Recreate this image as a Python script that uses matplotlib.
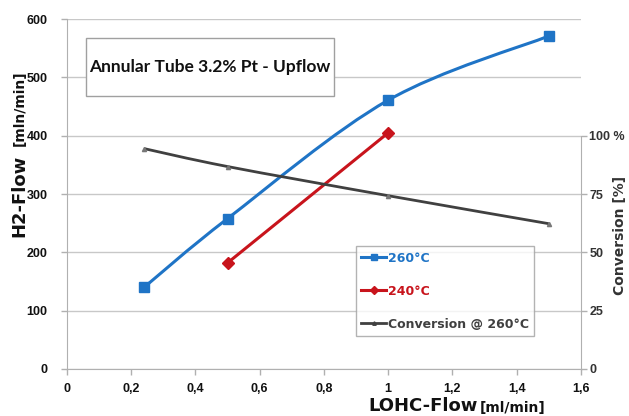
import numpy as np
import matplotlib
matplotlib.use("Agg")
import matplotlib.pyplot as plt
from matplotlib.path import Path
from matplotlib.patches import PathPatch, Rectangle
from matplotlib.lines import Line2D

# data
lohc = [0.24, 0.5, 1.0, 1.5]
h2_260 = [140, 258, 461, 571]
lohc_240 = [0.5, 1.0]
h2_240 = [182, 405]
conv_260 = [94.5, 86.8, 74.3, 62.3]  # percent

x_ticks = [0, 0.2, 0.4, 0.6, 0.8, 1.0, 1.2, 1.4, 1.6]
x_labels = ["0", "0,2", "0,4", "0,6", "0,8", "1", "1,2", "1,4", "1,6"]
y_ticks = [0, 100, 200, 300, 400, 500, 600]
conv_ticks = [0, 25, 50, 75, 100]
conv_labels = ["0", "25", "50", "75", "100 %"]

BLUE = "#1f74c6"
RED = "#c8141c"
GREY = "#404040"

plt.rcParams["font.family"] = ["Liberation Sans", "DejaVu Sans"]


def smooth_path(xs, ys):
    # excel style smoothed line (catmull-rom as cubic bezier)
    pts = np.column_stack([xs, ys]).astype(float)
    p = np.vstack([pts[0], pts, pts[-1]])
    verts = [tuple(pts[0])]
    codes = [Path.MOVETO]
    for i in range(1, len(p) - 2):
        c1 = p[i] + (p[i + 1] - p[i - 1]) / 6
        c2 = p[i + 1] - (p[i + 2] - p[i]) / 6
        verts += [tuple(c1), tuple(c2), tuple(p[i + 1])]
        codes += [Path.CURVE4] * 3
    return Path(verts, codes)


fig = plt.figure(figsize=(6.29, 4.16), dpi=100)
ax = fig.add_axes([0.1065, 0.113, 0.817, 0.841])

ax.set_xlim(0, 1.6)
ax.set_ylim(0, 600)
ax.set_xticks(x_ticks)
ax.set_xticklabels(x_labels)
ax.set_yticks(y_ticks)
ax.yaxis.grid(True, color="#c8c8c8", linewidth=1)
ax.set_axisbelow(True)
for s in ["top", "right"]:
    ax.spines[s].set_visible(False)
for s in ["left", "bottom"]:
    ax.spines[s].set_color("#b0b0b0")
ax.tick_params(axis="both", colors="#b0b0b0", length=4, width=1,
               labelcolor="#111111", labelsize=9)
ax.tick_params(axis="x", pad=6)
ax.tick_params(axis="y", pad=10)
for lbl in ax.get_xticklabels() + ax.get_yticklabels():
    lbl.set_fontweight("bold")

# conversion on a right axis, 0..100 % mapped onto 0..400
ax2 = ax.twinx()
ax2.set_ylim(0, 150)
ax2.set_yticks(conv_ticks)
ax2.set_yticklabels(conv_labels)
for s in ["top", "left", "bottom"]:
    ax2.spines[s].set_visible(False)
ax2.spines["right"].set_color("#b0b0b0")
ax2.spines["right"].set_bounds(0, 100)
ax2.tick_params(axis="y", colors="#b0b0b0", length=4, width=1,
                labelcolor="#333333", labelsize=9, pad=2)
for lbl in ax2.get_yticklabels():
    lbl.set_fontweight("bold")

# series
ax.add_patch(PathPatch(smooth_path(lohc, h2_260), facecolor="none",
                       edgecolor=BLUE, linewidth=2.2, zorder=3))
ax.plot(lohc, h2_260, linestyle="none", marker="s", markersize=7,
        color=BLUE, zorder=4)
ax.plot(lohc_240, h2_240, color=RED, linewidth=2.2, marker="D",
        markersize=6, zorder=4)
ax2.add_patch(PathPatch(smooth_path(lohc, conv_260), facecolor="none",
                        edgecolor=GREY, linewidth=2, zorder=3))
ax2.plot(lohc, conv_260, linestyle="none", marker="^", markersize=3,
         color="#777777", zorder=4)

# title box
ax.add_patch(Rectangle((0.037, 0.78), 0.482, 0.166, transform=ax.transAxes,
                       facecolor="white", edgecolor="#a0a0a0", linewidth=1,
                       zorder=5))
ax.text(0.278, 0.863, "Annular Tube 3.2% Pt - Upflow", transform=ax.transAxes,
        ha="center", va="center", fontsize=12.5, fontweight="bold",
        family="Lato", color="#111111", zorder=6)

# legend
handles = [
    Line2D([], [], color=BLUE, linewidth=2.2, marker="s", markersize=5),
    Line2D([], [], color=RED, linewidth=2.2, marker="D", markersize=4),
    Line2D([], [], color=GREY, linewidth=2, marker="^", markersize=2.5),
]
leg = ax.legend(handles, ["260°C", "240°C", "Conversion @ 260°C"],
                loc="upper left", bbox_to_anchor=(0.562, 0.351),
                prop={"family": "DejaVu Sans", "weight": "bold", "size": 9},
                frameon=True, fancybox=False, handlelength=2.0,
                handletextpad=0.1, labelspacing=1.6, borderpad=0.45,
                borderaxespad=0)
leg.get_frame().set_edgecolor("#a0a0a0")
leg.get_frame().set_linewidth(1)
for t, c in zip(leg.get_texts(), [BLUE, RED, GREY]):
    t.set_color(c)

# axis labels with two sizes
fig.text(0.031, 0.43, "H2-Flow", rotation=90, ha="center", va="bottom",
         fontsize=13, fontweight="bold", family="DejaVu Sans", color="#111111")
fig.text(0.031, 0.65, "[mln/min]", rotation=90, ha="center", va="bottom",
         fontsize=10, fontweight="bold", family="DejaVu Sans", color="#111111")
fig.text(0.760, 0.025, "LOHC-Flow", ha="right", va="center",
         fontsize=13, fontweight="bold", family="DejaVu Sans", color="#111111")
fig.text(0.763, 0.019, "[ml/min]", ha="left", va="center",
         fontsize=10, fontweight="bold", family="DejaVu Sans", color="#111111")
fig.text(0.985, 0.435, "Conversion [%]", rotation=90, ha="center",
         va="center", fontsize=10, fontweight="bold", family="DejaVu Sans",
         color="#333333")

fig.savefig("out.png", dpi=100)
